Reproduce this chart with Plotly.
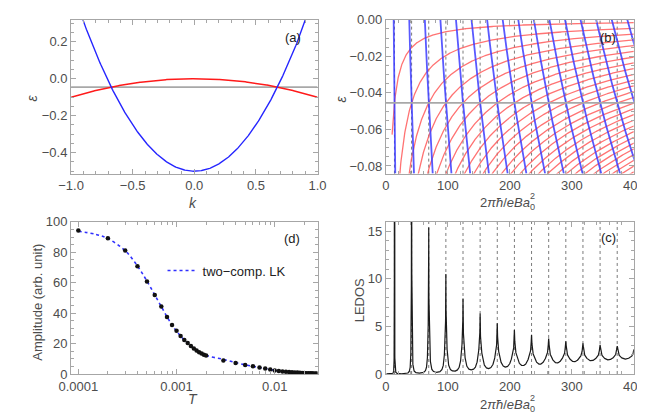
import numpy as np
import plotly.graph_objects as go

# ---------------- data ----------------
# Panel (a): two parabolic bands  eps = bottom + curvature * k^2
k_limits = [-1.0, 1.0]
electron_band = [-0.5, 1.0]      # [band edge, curvature]  (blue)
hole_band = [0.0, -0.1]          # [band edge, curvature]  (red)
fermi_level = -0.5 / 11          # grey horizontal line (compensated point, -0.0455)

# Panels (b), (c): Landau levels vs 2*pi*hbar/(e B a0^2)
flux_limits = [10.0, 400.0]
electron_levels = list(range(0, 18))
hole_levels = list(range(0, 32))
ledos_levels = list(range(0, 400))
ledos_broadening = [9.0e-4, 0.45]    # Gamma(X) = g0 * (X/100)^p
ledos_weight = [1.42, 0.30]          # C(X) = c0 * (X/100)^q

# Panel (d): oscillation amplitude vs temperature
T_data = [0.0001, 0.0002, 0.0003, 0.0004, 0.0005, 0.0006, 0.0007, 0.0008, 0.0009, 0.001,
          0.0011, 0.0012, 0.0013, 0.0014, 0.0015, 0.0016, 0.0017, 0.0018, 0.0019, 0.002,
          0.003, 0.004, 0.005, 0.006, 0.007, 0.008, 0.009, 0.01,
          0.011, 0.012, 0.013, 0.014, 0.015, 0.016, 0.017, 0.018, 0.019, 0.02,
          0.021, 0.022, 0.023, 0.024, 0.025, 0.026, 0.027]
A_data = [94.3, 89.2, 81.1, 70.8, 60.8, 51.9, 44.3, 37.5, 32.2, 28.4,
          25.0, 22.4, 20.3, 18.4, 16.8, 15.4, 14.3, 13.4, 12.7, 12.1,
          8.9, 7.2, 5.9, 5.1, 4.2, 3.6, 3.0, 2.3,
          2.0, 1.7, 1.5, 1.3, 1.1, 1.0, 0.9, 0.8, 0.7, 0.6,
          0.55, 0.5, 0.45, 0.4, 0.35, 0.3, 0.3]
T_fit = [0.0001, 0.00015, 0.0002, 0.0003, 0.0004, 0.0005, 0.0006, 0.0007, 0.0008, 0.0009,
         0.001, 0.0012, 0.0015, 0.002, 0.003, 0.004, 0.005, 0.006, 0.007, 0.008, 0.01,
         0.012, 0.015, 0.02, 0.027]
A_fit = [93.8, 91.8, 89.0, 81.0, 71.0, 61.0, 52.0, 44.3, 37.6, 32.2,
         28.2, 22.4, 16.9, 12.3, 9.6, 7.5, 6.0, 5.0, 4.2, 3.5, 2.4,
         1.6, 0.95, 0.45, 0.15]

# axis ranges
range_a_y = [-0.513, 0.318]
range_b_y = [-0.0842, 0.0]
range_c_y = [0.0, 16.0]
range_d_x = [-4.074, -1.564]
range_d_y = [0.0, 100.0]

# ---------------- helpers ----------------
FONT = "Liberation Sans, Arial, sans-serif"
TICKFONT = dict(family=FONT, size=13, color="#4d4d4d")
FRAME = "#a6a6a6"
W, H = 645, 419


def level_energy(band, n, X):
    return band[0] + band[1] * (np.asarray(n) + 0.5) * 4 * np.pi / X


def axis(domain, rng, anchor, dtick=None, minor_dtick=None, fmt=None, **kw):
    d = dict(domain=domain, range=rng, anchor=anchor, showline=True, linecolor=FRAME,
             linewidth=1, mirror="allticks", ticks="inside", ticklen=5, tickcolor=FRAME,
             tickwidth=1, showgrid=False, zeroline=False, tickfont=TICKFONT)
    if dtick is not None:
        d.update(tick0=0, dtick=dtick)
    if minor_dtick is not None:
        d["minor"] = dict(ticks="inside", ticklen=3, tickcolor=FRAME, tick0=0, dtick=minor_dtick)
    if fmt:
        d["tickformat"] = fmt
    d.update(kw)
    return d


def px_x(p):
    return p / W


def px_y(p):
    return 1 - p / H


fig = go.Figure()

# ---------------- panel (a) ----------------
k = np.linspace(k_limits[0], k_limits[1], 401)
fig.add_trace(go.Scatter(x=k_limits, y=[fermi_level, fermi_level], mode="lines",
                         line=dict(color="#a8a8a8", width=1.6), xaxis="x", yaxis="y", showlegend=False))
fig.add_trace(go.Scatter(x=k, y=hole_band[0] + hole_band[1] * k ** 2, mode="lines",
                         line=dict(color="#ff1a1a", width=1.5), xaxis="x", yaxis="y", showlegend=False))
fig.add_trace(go.Scatter(x=k, y=electron_band[0] + electron_band[1] * k ** 2, mode="lines",
                         line=dict(color="#2626ff", width=1.4), xaxis="x", yaxis="y", showlegend=False))

# ---------------- panel (b) ----------------
X = np.linspace(flux_limits[0], flux_limits[1], 900)
for n in hole_levels:
    fig.add_trace(go.Scatter(x=X, y=level_energy(hole_band, n, X), mode="lines",
                             line=dict(color="rgba(255,90,90,0.85)", width=1.3),
                             xaxis="x2", yaxis="y2", showlegend=False, hoverinfo="skip"))
eps = np.linspace(range_b_y[0], range_b_y[1], 60)
for n in electron_levels:
    xb = electron_band[1] * (n + 0.5) * 4 * np.pi / (eps - electron_band[0])
    fig.add_trace(go.Scatter(x=xb, y=eps, mode="lines",
                             line=dict(color="rgba(60,60,255,0.85)", width=1.8),
                             xaxis="x2", yaxis="y2", showlegend=False, hoverinfo="skip"))
fig.add_trace(go.Scatter(x=[0, flux_limits[1]], y=[fermi_level, fermi_level], mode="lines",
                         line=dict(color="#a8a8a8", width=1.6), xaxis="x2", yaxis="y2",
                         showlegend=False))

# crossing positions of the Landau levels with the Fermi level -> dotted grid lines
period = electron_band[1] * 4 * np.pi / (fermi_level - electron_band[0])
crossings = [(n + 0.5) * period for n in ledos_levels if (n + 0.5) * period < flux_limits[1]]
shapes = []
for xc in crossings:
    for xr, yr in (("x2", "y2 domain"), ("x4", "y4 domain")):
        shapes.append(dict(type="line", xref=xr, yref=yr, x0=xc, x1=xc, y0=0, y1=1, layer="below",
                           line=dict(color="#7a7a7a", width=1, dash="dot")))

# ---------------- panel (c) LEDOS ----------------
Xc = np.union1d(np.arange(1.0, 400.0001, 0.05), np.array(crossings))
gam = ledos_broadening[0] * (Xc / 100.0) ** ledos_broadening[1]
wgt = ledos_weight[0] * (Xc / 100.0) ** ledos_weight[1]
nn = np.array(ledos_levels)[None, :]
dos = np.zeros_like(Xc)
for band in (electron_band, hole_band):
    e_n = level_energy(band, nn, Xc[:, None])
    g = gam[:, None]
    dos += ((g / np.pi) / ((fermi_level - e_n) ** 2 + g ** 2)).sum(axis=1)
ledos = wgt / Xc * dos
fig.add_trace(go.Scatter(x=Xc, y=ledos, mode="lines", line=dict(color="#1a1a1a", width=1.2),
                         xaxis="x4", yaxis="y4", showlegend=False, hoverinfo="skip"))

# ---------------- panel (d) ----------------
fig.add_trace(go.Scatter(x=T_fit, y=A_fit, mode="lines", name="two\u2212comp. LK",
                         line=dict(color="#3030ff", width=1.6, dash="dot", shape="spline"),
                         xaxis="x3", yaxis="y3", showlegend=True))
fig.add_trace(go.Scatter(x=T_data, y=A_data, mode="markers",
                         marker=dict(color="#111111", size=4.5), xaxis="x3", yaxis="y3",
                         showlegend=False))

# ---------------- layout ----------------
dom_left = [px_x(52), px_x(308)]
dom_right = [px_x(379), px_x(636.5)]
dom_top = [px_y(164.5), px_y(5)]
dom_bot = [px_y(372.3), px_y(214.5)]

log_minor = [m * 10 ** e for e in (-4, -3, -2) for m in range(2, 10) if m * 10 ** e < 0.03]

layout = dict(
    width=W, height=H, margin=dict(l=0, r=0, t=0, b=0),
    paper_bgcolor="white", plot_bgcolor="white",
    font=dict(family=FONT, size=13, color="#4d4d4d"),
    xaxis=axis(dom_left, k_limits, "y", dtick=0.5, minor_dtick=0.1, fmt=".1f"),
    yaxis=axis(dom_top, range_a_y, "x", dtick=0.2, minor_dtick=0.05, fmt=".1f"),
    xaxis2=axis(dom_right, [0, flux_limits[1]], "y2", dtick=100, minor_dtick=20),
    yaxis2=axis(dom_top, range_b_y, "x2", dtick=0.02, minor_dtick=0.005, fmt=".2f"),
    xaxis3=axis(dom_left, range_d_x, "y3", type="log", tickvals=[1e-4, 1e-3, 1e-2],
                ticktext=["0.0001", "0.001", "0.01"],
                minor=dict(ticks="inside", ticklen=3, tickcolor=FRAME, tickvals=log_minor)),
    yaxis3=axis(dom_bot, range_d_y, "x3", dtick=20, minor_dtick=5),
    xaxis4=axis(dom_right, [0, flux_limits[1]], "y4", dtick=100, minor_dtick=20),
    yaxis4=axis(dom_bot, range_c_y, "x4", dtick=5, minor_dtick=1),
    shapes=shapes,
    showlegend=True,
    legend=dict(x=px_x(147), y=px_y(265), xanchor="left", yanchor="middle",
                bgcolor="rgba(0,0,0,0)", font=dict(family=FONT, size=13, color="#222222"),
                itemwidth=30),
)
fig.update_layout(**layout)

ann = []


def text(s, x, y, size=13, color="#4d4d4d", angle=0, xanchor="center"):
    ann.append(dict(text=s, x=px_x(x), y=px_y(y), xref="paper", yref="paper", showarrow=False,
                    xanchor=xanchor, yanchor="middle", textangle=angle,
                    font=dict(family=FONT, size=size, color=color)))


flux_title = "2<i>\u03c0\u0127</i>/<i>eBa</i><sub>0</sub>"
text("<i>k</i>", 179, 195, size=14)
text("<i>\u03b5</i>", 11, 86, size=14, angle=-90)
text("<i>\u03b5</i>", 332, 87, size=14, angle=-90)
for yb in (196, 405):
    text(flux_title, 536, yb, xanchor="right")
    text("2", 531, yb - 8, size=9)
text("<i>T</i>", 179, 398, size=14)
text("Amplitude (arb. unit)", 17, 298, angle=-90)
text("LEDOS", 352, 296, angle=-90)
text("(a)", 282, 23, color="#1a1a1a")
text("(b)", 610, 23, color="#1a1a1a")
text("(d)", 281, 232, color="#1a1a1a")
text("(c)", 610, 231, color="#1a1a1a")
fig.update_layout(annotations=ann)

fig.write_html("out.html")
